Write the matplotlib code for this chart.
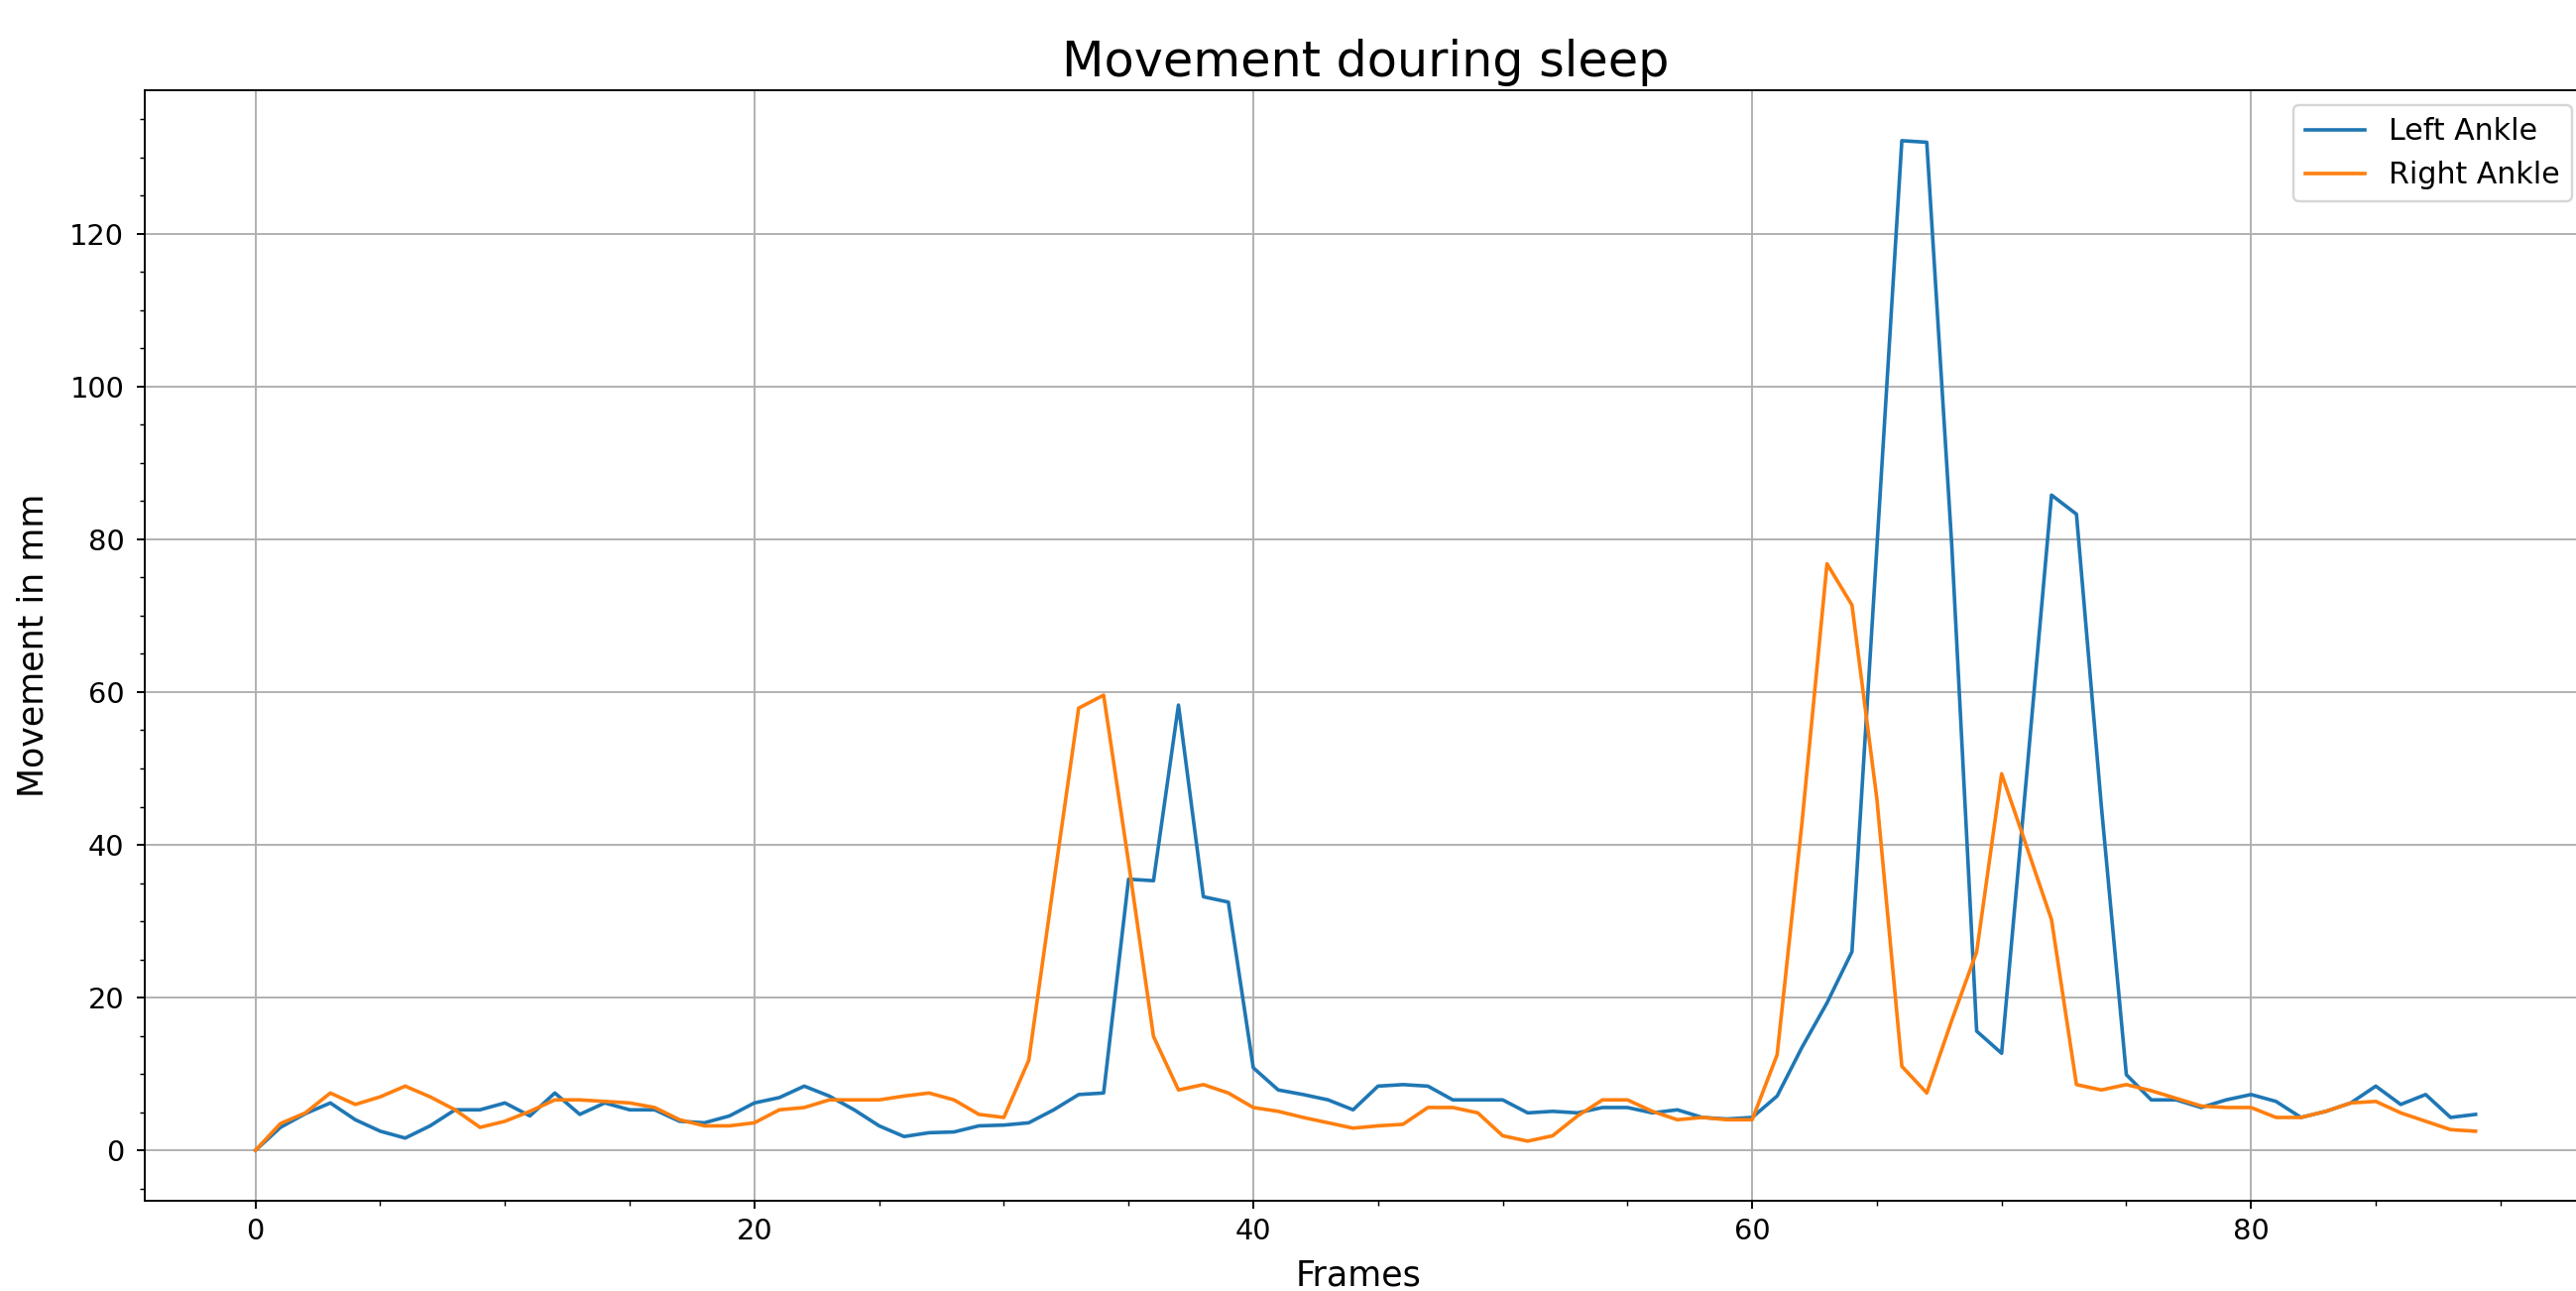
import matplotlib
matplotlib.use('Agg')
import matplotlib.pyplot as plt
import numpy as np

# Valores (movimiento en mm por frame)
frames = np.arange(90)

left_ankle = [
    0.0, 3.0, 4.8, 6.2, 4.0, 2.5, 1.6, 3.2, 5.3, 5.3,
    6.2, 4.5, 7.5, 4.7, 6.2, 5.3, 5.3, 3.8, 3.6, 4.5,
    6.2, 6.9, 8.4, 7.1, 5.3, 3.2, 1.8, 2.3, 2.4, 3.2,
    3.3, 3.6, 5.3, 7.3, 7.5, 35.5, 35.3, 58.3, 33.2, 32.5,
    10.8, 7.9, 7.3, 6.6, 5.3, 8.4, 8.6, 8.4, 6.6, 6.6,
    6.6, 4.9, 5.1, 4.9, 5.6, 5.6, 4.9, 5.3, 4.3, 4.1,
    4.3, 7.1, 13.5, 19.3, 26.0, 79.0, 132.2, 132.0, 79.3, 15.6,
    12.7, 49.0, 85.8, 83.3, 45.0, 9.9, 6.6, 6.6, 5.6, 6.6,
    7.3, 6.4, 4.3, 5.1, 6.2, 8.4, 6.0, 7.3, 4.3, 4.7,
]

right_ankle = [
    0.0, 3.5, 4.9, 7.5, 6.0, 7.0, 8.4, 7.0, 5.3, 3.0,
    3.8, 5.1, 6.6, 6.6, 6.4, 6.2, 5.6, 4.0, 3.2, 3.2,
    3.6, 5.3, 5.6, 6.6, 6.6, 6.6, 7.1, 7.5, 6.6, 4.7,
    4.3, 11.8, 35.0, 57.9, 59.6, 37.7, 14.9, 7.9, 8.6, 7.5,
    5.6, 5.1, 4.3, 3.6, 2.9, 3.2, 3.4, 5.6, 5.6, 4.9,
    1.9, 1.2, 1.9, 4.5, 6.6, 6.6, 5.1, 4.0, 4.3, 4.0,
    4.0, 12.5, 43.0, 76.8, 71.4, 46.0, 11.0, 7.5, 17.0, 26.0,
    49.3, 39.8, 30.2, 8.6, 7.9, 8.6, 7.8, 6.8, 5.8, 5.6,
    5.6, 4.3, 4.3, 5.1, 6.2, 6.4, 4.9, 3.8, 2.7, 2.5,
]

fig = plt.figure(figsize=(15, 1302 / 173.2), dpi=173.2)
ax = fig.add_axes([0.0561, 0.0699, 0.948, 0.8602])

ax.plot(frames, left_ankle, label='Left Ankle')
ax.plot(frames, right_ankle, label='Right Ankle')

ax.set_title('Movement douring sleep', fontsize=20.5)
ax.set_xlabel('Frames', fontsize=14.5)
ax.set_ylabel('Movement in mm', fontsize=14.5)
ax.xaxis.set_label_coords(0.497, -0.052)
ax.yaxis.set_label_coords(-0.0385, 0.5)
ax.minorticks_on()
ax.tick_params(axis='both', which='major', labelsize=12)
ax.tick_params(axis='y', which='major', pad=5)
ax.grid(True)
ax.legend(loc='upper right', fontsize=12.5)

fig.savefig('out.png', dpi=173.2)
